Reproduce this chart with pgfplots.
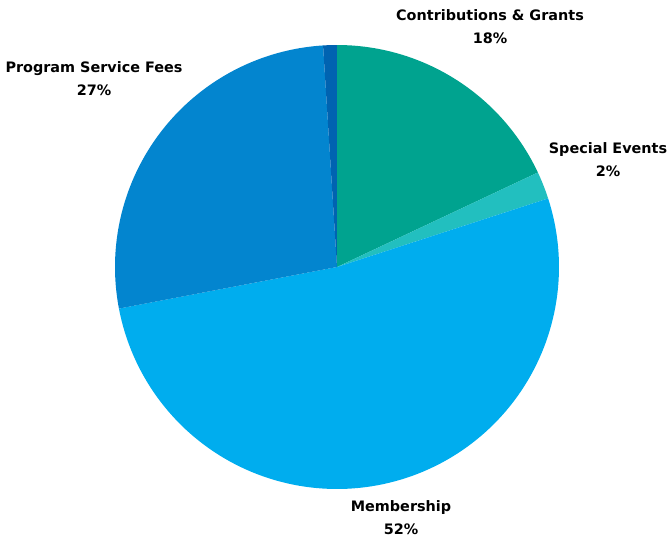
\documentclass[border=0pt]{standalone}
\usepackage{pgfplots}
\usepackage{pgfplotstable}
\usepackage{fontspec}
\setmainfont{DejaVu Sans}
\pgfplotsset{compat=1.18}
\usepgfplotslibrary{polar}

\definecolor{contrib}{HTML}{00A38F}
\definecolor{special}{HTML}{22BFBF}
\definecolor{member}{HTML}{00ADEE}
\definecolor{program}{HTML}{0385CF}
\definecolor{other}{HTML}{0063B1}

% share in percent, clockwise from 12 o'clock
\pgfplotstableread{
label share color
Contributions 18 contrib
Special 2 special
Membership 52 member
Program 27 program
Other 1 other
}\piedata

\begin{document}
\begin{tikzpicture}
\useasboundingbox (-337pt,-273pt) rectangle (331pt,267pt);
\begin{polaraxis}[
  at={(0,0)}, anchor=center,
  scale only axis, width=444pt, height=444pt,
  hide axis, ymin=0, ymax=1, clip=false,
]
\def\cum{0}
\pgfplotsforeachungrouped \i in {0,...,4}{
  \pgfplotstablegetelem{\i}{share}\of\piedata \let\share\pgfplotsretval
  \pgfplotstablegetelem{\i}{color}\of\piedata \let\col\pgfplotsretval
  \pgfmathsetmacro\aone{90-3.6*\cum}
  \pgfmathsetmacro\cum{\cum+\share}
  \pgfmathsetmacro\atwo{90-3.6*\cum}
  \edef\temp{\noexpand\addplot[fill=\col, draw=none, domain=\atwo:\aone, samples=120]
    {1} -- (axis cs:0,0) -- cycle;}
  \temp
}
\end{polaraxis}
\begin{scope}[every node/.style={font=\fontsize{14.4}{23}\selectfont\bfseries, align=center, inner sep=0pt}]
\node at (153pt,240pt) {Contributions \& Grants\\18\%};
\node at (271pt,107pt) {Special Events\\2\%};
\node at (64pt,-251pt) {Membership\\52\%};
\node at (-243pt,188pt) {Program Service Fees\\27\%};
\end{scope}
\end{tikzpicture}
\end{document}
